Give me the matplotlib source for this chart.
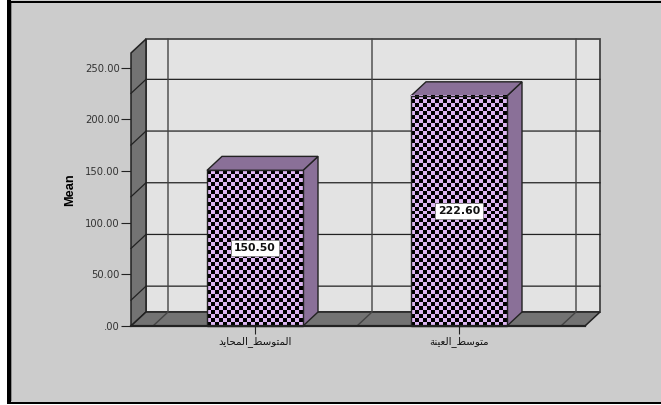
import numpy as np
import matplotlib
matplotlib.use("Agg")
import matplotlib.pyplot as plt
from matplotlib.patches import Polygon, Rectangle

categories = ["المتوسط_المحايد", "متوسط_العينة"]
means = [150.50, 222.60]
y_ticks = [0, 50, 100, 150, 200, 250]
y_labels = [".00", "50.00", "100.00", "150.00", "200.00", "250.00"]
grid_values = [25, 75, 125, 175, 225]

FORMS = {"ا": (0xFE8D, 0xFE8E), "د": (0xFEA9, 0xFEAA), "و": (0xFEED, 0xFEEE),
         "ة": (0xFE93, 0xFE94),
         "ل": (0xFEDD, 0xFEDE, 0xFEDF, 0xFEE0), "م": (0xFEE1, 0xFEE2, 0xFEE3, 0xFEE4),
         "ت": (0xFE95, 0xFE96, 0xFE97, 0xFE98), "س": (0xFEB1, 0xFEB2, 0xFEB3, 0xFEB4),
         "ط": (0xFEC1, 0xFEC2, 0xFEC3, 0xFEC4), "ح": (0xFEA1, 0xFEA2, 0xFEA3, 0xFEA4),
         "ي": (0xFEF1, 0xFEF2, 0xFEF3, 0xFEF4), "ع": (0xFEC9, 0xFECA, 0xFECB, 0xFECC),
         "ن": (0xFEE5, 0xFEE6, 0xFEE7, 0xFEE8)}

def shape(s):
    out = []
    for i, c in enumerate(s):
        if c not in FORMS:
            out.append(c)
            continue
        p = s[i - 1] if i else " "
        n = s[i + 1] if i + 1 < len(s) else " "
        joins_prev = p in FORMS and len(FORMS[p]) == 4
        joins_next = n in FORMS and len(FORMS[c]) == 4
        f = FORMS[c]
        if joins_prev and joins_next:
            k = 3
        elif joins_next:
            k = 2
        elif joins_prev:
            k = 1
        else:
            k = 0
        out.append(chr(f[k]))
    return "".join(reversed(out))

W, H = 661, 405
BG, WALL, DARK, SIDE, LILAC = "#CCCCCC", "#E3E3E3", "#737373", "#8A7098", "#DDB6F2"
EDGE = "#222222"
fig = plt.figure(figsize=(W / 100, H / 100), dpi=100, facecolor="white")

def frame(x, y, w, h, color):
    fig.add_artist(Rectangle((x / W, 1 - (y + h) / H), w / W, h / H, transform=fig.transFigure,
                             fc=color, ec="none", zorder=-5))

frame(7, 0, W - 7, 404, BG)
frame(7, 1, W - 7, 2.4, "black")
frame(7, 401.5, W - 7, 2.5, "black")
frame(7, 0, 3.6, 404, "black")
frame(10.6, 3.4, 1.2, 398, "#8C8C8C")

L, R, T, B = 131, 585, 53, 326
ax = fig.add_axes([L / W, 1 - B / H, (R - L) / W, (B - T) / H])
px_x = 204.0            # pixels per category
px_y = 51.7 / 50        # pixels per unit
x0 = (L - 255) / px_x
x1 = (R - 255) / px_x
ymax = (B - T) / px_y
ax.set_xlim(x0, x1)
ax.set_ylim(0, ymax)
ax.patch.set_alpha(0)
for s in ax.spines.values():
    s.set_visible(False)
dx, dy = 15 / px_x, 14 / px_y

def poly(pts, fc, z, lw=1.0, ec=EDGE):
    ax.add_patch(Polygon(pts, closed=True, fc=fc, ec=ec, lw=lw, zorder=z, clip_on=False))

# walls and floor
poly([(x0 + dx, dy), (x1 + dx, dy), (x1 + dx, ymax + dy), (x0 + dx, ymax + dy)], WALL, 1, lw=1.3, ec="#444444")
poly([(x0, 0), (x0 + dx, dy), (x0 + dx, ymax + dy), (x0, ymax)], DARK, 2, lw=1.1)
poly([(x0, 0), (x1, 0), (x1 + dx, dy), (x0 + dx, dy)], DARK, 2, lw=1.1)

# grid
for v in grid_values:
    ax.plot([x0, x0 + dx, x1 + dx], [v, v + dy, v + dy], color=EDGE, lw=0.9, zorder=3, clip_on=False)
for b in np.arange(len(means) + 1) - 0.5:
    ax.plot([b, b + dx, b + dx], [0, dy, ymax + dy], color="#444444", lw=1.0, zorder=3, clip_on=False)

# bars
bw = 96 / px_x
cell = 4.0
for i, (name, m) in enumerate(zip(categories, means)):
    l, r = i - bw / 2, i + bw / 2
    poly([(r, 0), (r + dx, dy), (r + dx, m + dy), (r, m)], SIDE, 5)
    poly([(l, m), (r, m), (r + dx, m + dy), (l + dx, m + dy)], SIDE, 5)
    nx = int(round(96 / cell))
    ny = int(round(m * px_y / cell))
    yy, xx = np.indices((ny, nx))
    chk = (xx + yy) % 2
    ax.imshow(chk, extent=(l, r, 0, m), origin="lower", aspect="auto", interpolation="nearest",
              cmap=matplotlib.colors.ListedColormap(["black", LILAC]), zorder=6, clip_on=False)
    ax.add_patch(Rectangle((l, 0), bw, m, fill=False, ec=EDGE, lw=1.0, zorder=7, clip_on=False))
    ax.text(i, m / 2, f"{m:.2f}", ha="center", va="center", fontsize=7.8,
            fontweight="bold", family="DejaVu Sans", color="#111111", zorder=9,
            bbox=dict(boxstyle="square,pad=0.25", fc="white", ec="#777777", lw=0.5))
ax.set_xlim(x0, x1)
ax.set_ylim(0, ymax)

ax.plot([x0, x1], [0, 0], color=EDGE, lw=1.6, zorder=8, clip_on=False)
ax.set_xticks(range(len(categories)))
ax.set_xticklabels([shape(c) for c in categories], fontsize=7.4, family="DejaVu Sans", color="#111111")
ax.set_yticks(y_ticks)
ax.set_yticklabels(y_labels, fontsize=7.2, family="DejaVu Sans", color="#333333")
ax.tick_params(axis="x", length=6, width=0.8, pad=1.5, color=EDGE)
ax.tick_params(axis="y", length=7, width=0.8, pad=1, color=EDGE)
ax.set_ylabel("Mean", fontsize=9.2, fontweight="bold", family="Liberation Sans", labelpad=0)
ax.yaxis.set_label_coords((76 - L) / (R - L), (B - 190) / (B - T))

fig.savefig("out.png", dpi=100, facecolor="white")
